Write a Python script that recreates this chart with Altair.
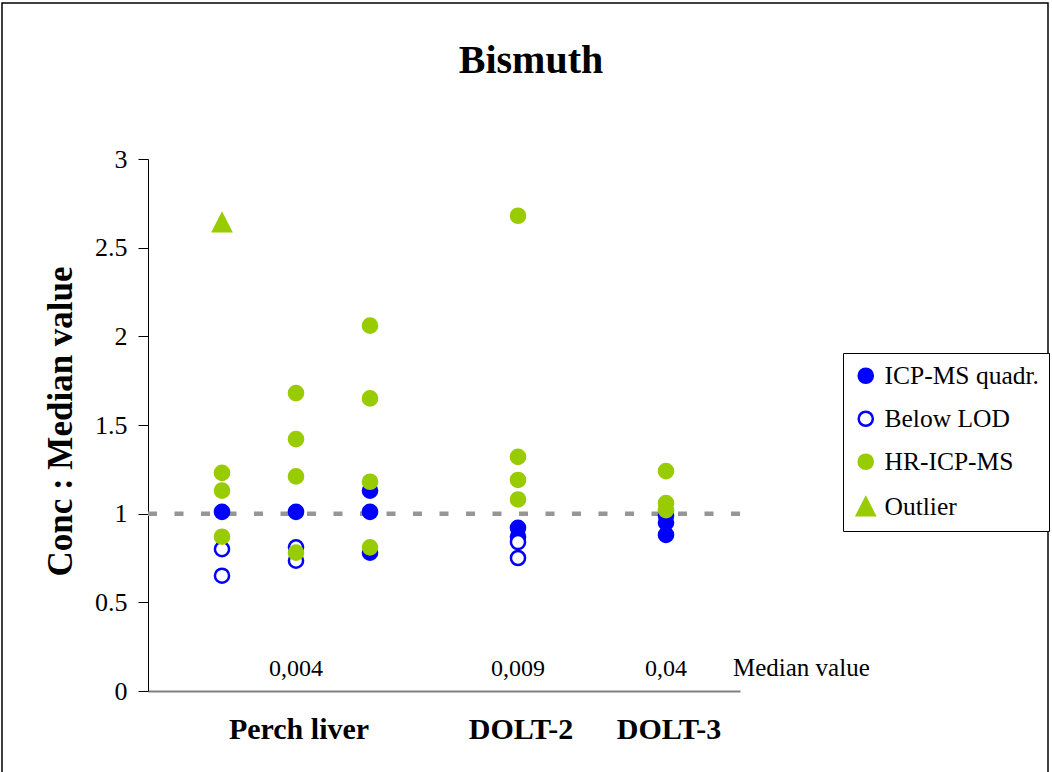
import altair as alt
import pandas as pd

# Column slots on the x scale: three perch liver runs, then DOLT-2 and DOLT-3
series_names = ["ICP-MS quadr.", "Below LOD", "HR-ICP-MS", "Outlier"]

icp_x = [1, 2, 3, 3, 3, 5, 5, 7, 7, 7]
icp_y = [1.01, 1.01, 1.13, 1.01, 0.78, 0.92, 0.87, 0.99, 0.95, 0.88]

lod_x = [1, 1, 2, 2, 5, 5]
lod_y = [0.80, 0.65, 0.81, 0.735, 0.84, 0.75]

hr_x = [1, 1, 1, 2, 2, 2, 2, 3, 3, 3, 3, 5, 5, 5, 5, 7, 7, 7]
hr_y = [1.23, 1.13, 0.87, 1.68, 1.42, 1.21, 0.78, 2.06, 1.65, 1.18, 0.81,
        2.68, 1.32, 1.19, 1.08, 1.24, 1.06, 1.02]

outlier_x = [1]
outlier_y = [2.64]

materials = ["Perch liver", "DOLT-2", "DOLT-3"]
material_x = [2, 5, 7]
median_labels = ["0,004", "0,009", "0,04"]

y_ticks = [0, 0.5, 1, 1.5, 2, 2.5, 3]

rows = []
for name, xs, ys in zip(series_names,
                        [icp_x, lod_x, hr_x, outlier_x],
                        [icp_y, lod_y, hr_y, outlier_y]):
    for x, y in zip(xs, ys):
        rows.append({"slot": x, "ratio": y, "series": name})
points = pd.DataFrame(rows)

labels = pd.DataFrame({"slot": material_x, "material": materials, "median": median_labels})
one = pd.DataFrame({"k": [0]})

FONT = "Liberation Serif"
BLUE = "#0000FF"
GREEN = "#99CC00"
TRIANGLE = "M0,-1.25L1.25,1.2L-1.25,1.2Z"

x_scale = alt.Scale(domain=[0, 8], nice=False, zero=False)
y_scale = alt.Scale(domain=[0, 3], nice=False)

x_axis = alt.Axis(labels=False, ticks=False, grid=False, title=None,
                  domainColor="#808080", domainWidth=2)
y_axis = alt.Axis(values=y_ticks, labelExpr="'' + datum.value", grid=False,
                  labelFont=FONT, labelFontSize=26, labelColor="black",
                  labelPadding=11, tickSize=10, tickColor="black",
                  domainColor="black", domainWidth=1,
                  title="Conc : Median value", titleFont=FONT, titleFontSize=35,
                  titleFontWeight="bold", titleColor="black",
                  titleX=-88, titleY=262, titleAngle=270,
                  titleAlign="center", titleBaseline="middle")

# outer chart border
frame = alt.Chart(one).mark_rect(fillOpacity=0, stroke="black", strokeWidth=1.5).encode(
    x=alt.value(-146), x2=alt.value(900), y=alt.value(-156), y2=alt.value(640)
)

ref_line = alt.Chart(one).mark_rule(color="#969696", strokeWidth=4.5, strokeDash=[9, 17.5]).encode(
    y=alt.Y("y:Q", scale=y_scale, axis=y_axis),
).transform_calculate(y="1")

legend = alt.Legend(title=None, orient="none", legendX=695, legendY=194,
                    padding=10, strokeColor="black", fillColor="white",
                    labelFont=FONT, labelFontSize=25.5, labelColor="black",
                    labelOffset=6, rowPadding=16, symbolSize=200,
                    symbolStrokeWidth=2.5)

dots = alt.Chart(points).mark_point(size=200, strokeWidth=2.5, opacity=1).encode(
    x=alt.X("slot:Q", scale=x_scale, axis=x_axis),
    y=alt.Y("ratio:Q", scale=y_scale, axis=y_axis),
    shape=alt.Shape("series:N", scale=alt.Scale(domain=series_names,
                    range=["circle", "circle", "circle", TRIANGLE]), legend=legend),
    fill=alt.Fill("series:N", scale=alt.Scale(domain=series_names,
                  range=[BLUE, "white", GREEN, GREEN]), legend=legend),
    stroke=alt.Stroke("series:N", scale=alt.Scale(domain=series_names,
                      range=[BLUE, BLUE, GREEN, GREEN]), legend=legend),
    order=alt.Order("idx:Q"),
).transform_window(idx="row_number()")

median_text = alt.Chart(labels).mark_text(font=FONT, fontSize=24, color="black",
                                           baseline="alphabetic").encode(
    x=alt.X("slot:Q", scale=x_scale, axis=x_axis),
    y=alt.value(517),
    text="median:N",
)

median_caption = alt.Chart(one).mark_text(font=FONT, fontSize=25, color="black",
                                          baseline="alphabetic", align="left").encode(
    x=alt.value(585), y=alt.value(517), text=alt.value("Median value")
)

material_text = alt.Chart(labels).mark_text(font=FONT, fontSize=30, fontWeight="bold",
                                             color="black", baseline="alphabetic", dx=3).encode(
    x=alt.X("slot:Q", scale=x_scale, axis=x_axis),
    y=alt.value(580),
    text="material:N",
)

title_text = alt.Chart(one).mark_text(font=FONT, fontSize=40, fontWeight="bold",
                                      color="black", baseline="alphabetic").encode(
    x=alt.value(383), y=alt.value(-86), text=alt.value("Bismuth")
)

chart = alt.layer(
    frame, ref_line, dots, median_text, median_caption, material_text, title_text
).properties(
    width=592, height=532,
    padding={"left": 148, "top": 159, "right": 312, "bottom": 81},
    autosize=alt.AutoSizeParams(type="none"),
    background="white",
).configure_view(stroke=None)

chart.save("out.html", embed_options={"renderer": "svg", "actions": False})
